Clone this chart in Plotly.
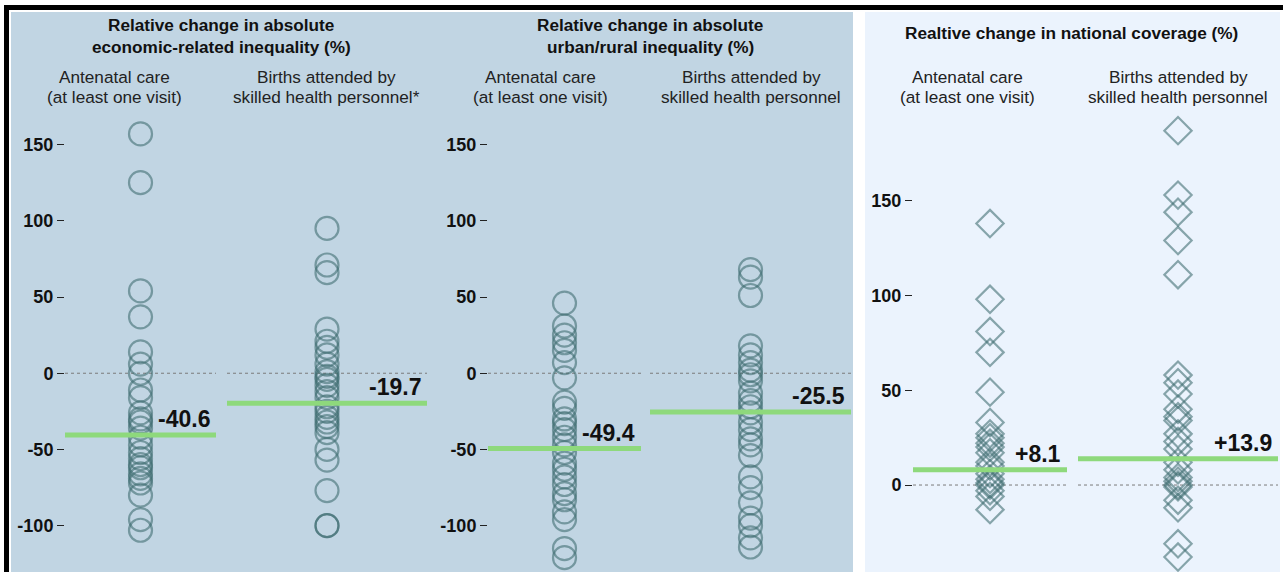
import plotly.graph_objects as go

W, H = 1283, 572

# ---------------- data ----------------
panel_titles = [
    ["Relative change in absolute", "economic-related inequality (%)"],
    ["Relative change in absolute", "urban/rural inequality (%)"],
    ["Realtive change in national coverage (%)"],
]
col_titles = [
    ["Antenatal care", "(at least one visit)"],
    ["Births attended by", "skilled health personnel*"],
    ["Antenatal care", "(at least one visit)"],
    ["Births attended by", "skilled health personnel"],
    ["Antenatal care", "(at least one visit)"],
    ["Births attended by", "skilled health personnel"],
]
categories = ["Antenatal care", "Births attended by skilled health personnel"] * 3

econ_anc = [157, 125, 54, 37, 14, 6, 0, -11, -16, -26, -30, -32, -36, -42, -47,
            -52, -56, -60, -62, -66, -69, -72, -80, -96, -103]
econ_sba = [95, 71, 66, 29, 21, 17, 12, 6, 1, -2, -4, -8, -12, -16, -22, -25,
            -29, -32, -35, -39, -50, -57, -77, -100, -100]
urban_anc = [46, 31, 25, 20, 15, 7, -3, -19, -23, -30, -33, -37, -42, -47, -52,
             -59, -63, -68, -73, -79, -83, -91, -96, -115, -121]
urban_sba = [68, 63, 51, 18, 12, 7, 2, -1, -5, -13, -18, -22, -26, -32, -37,
             -43, -47, -54, -68, -75, -85, -95, -100, -108, -114]
cov_anc = [138, 98, 81, 70, 49, 33, 27, 25, 22, 20, 17, 12, 10, 6, 3, 1, 0,
           -3, -6, -13]
cov_sba = [187, 153, 144, 129, 111, 58, 54, 48, 40, 36, 34, 27, 23, 19, 12, 8,
           4, 2, 0, -1, -8, -12, -31, -38]

series = [econ_anc, econ_sba, urban_anc, urban_sba, cov_anc, cov_sba]
means = [-40.6, -19.7, -49.4, -25.5, 8.1, 13.9]
mean_labels = ["-40.6", "-19.7", "-49.4", "-25.5", "+8.1", "+13.9"]

ineq_ticks = [-100, -50, 0, 50, 100, 150]
ineq_ticktext = ["-100", "-50", "0", "50", "100", "150"]
cov_ticks = [0, 50, 100, 150]
cov_ticktext = ["0", "50", "100", "150"]

# ---------------- layout geometry (pixels) ----------------
col_px = [(65, 216), (227, 427), (488, 641), (650, 851), (913, 1067), (1078, 1278)]
plot_top_px = 110
ineq_range = [-130.4, 172.7]
cov_range = [-45.9, 197.9]

FONT = "Arial, 'Liberation Sans', Helvetica, sans-serif"
MARK = "rgba(60,106,110,0.58)"
GREEN = "#8ed97c"


def fx(x):
    return x / W


def fy(y):
    return 1 - y / H


fig = go.Figure()

yaxis_of_col = ["y", "y", "y2", "y2", "y3", "y3"]
for i, vals in enumerate(series):
    xname = "x" if i == 0 else f"x{i+1}"
    diamond = i >= 4
    fig.add_trace(go.Scatter(
        x=[categories[i]] * len(vals), y=vals,
        xaxis=xname, yaxis=yaxis_of_col[i],
        mode="markers", cliponaxis=False, showlegend=False, hoverinfo="y",
        marker=dict(
            symbol="diamond-open" if diamond else "circle-open",
            size=21 if diamond else 23,
            color=MARK,
            line=dict(width=2.2, color=MARK),
        ),
    ))

layout = dict(
    width=W, height=H,
    margin=dict(l=0, r=0, t=0, b=0),
    paper_bgcolor="white", plot_bgcolor="rgba(0,0,0,0)",
    font=dict(family=FONT, color="#111"),
    showlegend=False,
)

ydom = [0, fy(plot_top_px)]
anchors = ["y", "y", "y2", "y2", "y3", "y3"]
for i, (a, b) in enumerate(col_px):
    key = "xaxis" if i == 0 else f"xaxis{i+1}"
    layout[key] = dict(domain=[fx(a), fx(b)], anchor=anchors[i], type="category",
                       range=[-1, 1], visible=False, fixedrange=True)

ytick_common = dict(showgrid=False, zeroline=False, showline=False, ticks="outside",
                    ticklen=7, tickwidth=1.2, tickcolor="#222",
                    tickfont=dict(family=FONT, size=18, color="#111", weight="bold"),
                    fixedrange=True, domain=ydom)
layout["yaxis"] = dict(ytick_common, anchor="x", range=ineq_range,
                       tickvals=ineq_ticks, ticktext=ineq_ticktext)
layout["yaxis2"] = dict(ytick_common, anchor="x3", range=ineq_range,
                        tickvals=ineq_ticks, ticktext=ineq_ticktext)
layout["yaxis3"] = dict(ytick_common, anchor="x5", range=cov_range,
                        tickvals=cov_ticks, ticktext=cov_ticktext)

shapes = []
# backgrounds and border
shapes.append(dict(type="rect", xref="paper", yref="paper", layer="below",
                   x0=fx(11), x1=fx(853), y0=0, y1=fy(12),
                   fillcolor="#c1d5e3", line=dict(width=0)))
shapes.append(dict(type="rect", xref="paper", yref="paper", layer="below",
                   x0=fx(865), x1=fx(1280), y0=0, y1=fy(12),
                   fillcolor="#ebf3fd", line=dict(width=0)))
shapes.append(dict(type="rect", xref="paper", yref="paper", layer="below",
                   x0=fx(4), x1=1, y0=fy(10), y1=fy(5),
                   fillcolor="black", line=dict(width=0)))
shapes.append(dict(type="rect", xref="paper", yref="paper", layer="below",
                   x0=fx(4), x1=fx(9), y0=0, y1=fy(5),
                   fillcolor="black", line=dict(width=0)))

annotations = []
for i in range(6):
    xr = "x" if i == 0 else f"x{i+1}"
    yr = anchors[i]
    # dotted zero line
    shapes.append(dict(type="line", xref=f"{xr} domain", yref=yr, layer="below",
                       x0=0, x1=1, y0=0, y1=0,
                       line=dict(color="#7a7a7a", width=1, dash="dot")))
    # mean line
    shapes.append(dict(type="line", xref=f"{xr} domain", yref=yr, layer="above",
                       x0=0, x1=1, y0=means[i], y1=means[i],
                       line=dict(color=GREEN, width=5)))
    annotations.append(dict(xref=f"{xr} domain", yref=yr, x=1, y=means[i],
                            xanchor="right", yanchor="bottom", xshift=-4, yshift=1,
                            text=mean_labels[i], showarrow=False,
                            font=dict(family=FONT, size=23, color="#111", weight="bold")))

# panel titles
title_pos = [(221, [25, 47]), (650, [25, 47]), (1071, [33])]
for (cx, ys), lines in zip(title_pos, panel_titles):
    for yy, t in zip(ys, lines):
        annotations.append(dict(xref="paper", yref="paper", x=fx(cx), y=fy(yy),
                                xanchor="center", yanchor="middle", text=t,
                                showarrow=False,
                                font=dict(family=FONT, size=17.2, color="#111",
                                          weight="bold")))
# column titles
col_title_x = [114, 326, 540, 751, 967, 1178]
for cx, lines in zip(col_title_x, col_titles):
    for yy, t in zip([77, 97], lines):
        annotations.append(dict(xref="paper", yref="paper", x=fx(cx), y=fy(yy),
                                xanchor="center", yanchor="middle", text=t,
                                showarrow=False,
                                font=dict(family=FONT, size=17.2, color="#222")))

layout["shapes"] = shapes
layout["annotations"] = annotations
fig.update_layout(**layout)

fig.write_html("out.html", config={"displayModeBar": False},
               post_script="document.body.style.margin='0';document.body.style.padding='0';")
